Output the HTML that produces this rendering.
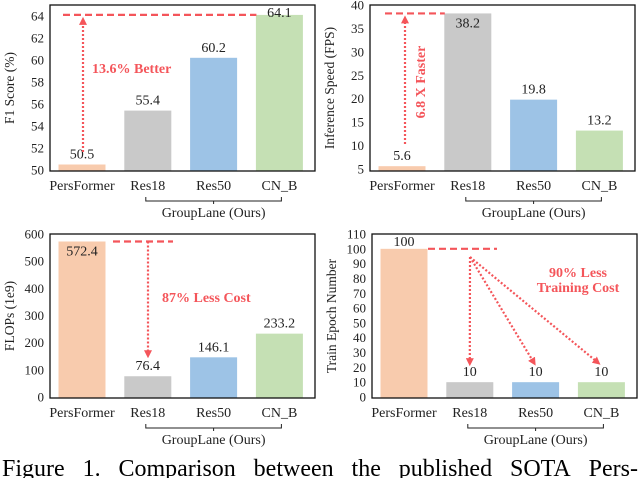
<!DOCTYPE html>
<html><head><meta charset="utf-8">
<style>
html,body{margin:0;padding:0;background:#fff;width:640px;height:478px;overflow:hidden;position:relative;}
svg{position:absolute;left:0;top:0;}
svg text{font-family:"Liberation Serif",serif !important;}
#cap{position:absolute;left:2px;top:455px;width:636px;font:24px "Liberation Serif",serif;line-height:28px;white-space:nowrap;display:flex;justify-content:space-between;}
</style></head>
<body>
<svg id="chart" width="640" height="478" font-family="Liberation Serif, serif">
<defs>
<marker id="ah" markerWidth="8" markerHeight="8" refX="4" refY="4" orient="auto" markerUnits="userSpaceOnUse">
<path d="M0,0 L8,4 L0,8 z" fill="#f4555a"/></marker>
</defs>
</svg>
<div id="cap"><span>Figure</span><span>1.</span><span>Comparison</span><span>between</span><span>the</span><span>published</span><span>SOTA</span><span>Pers-</span></div>
<script>
const categories = ["PersFormer","Res18","Res50","CN_B"];
const f1Values = [50.5,55.4,60.2,64.1];
const f1Labels = ["50.5","55.4","60.2","64.1"];
const f1Ticks = [50,52,54,56,58,60,62,64];
const fpsValues = [5.6,38.2,19.8,13.2];
const fpsLabels = ["5.6","38.2","19.8","13.2"];
const fpsTicks = [5,10,15,20,25,30,35,40];
const flopsValues = [572.4,76.4,146.1,233.2];
const flopsLabels = ["572.4","76.4","146.1","233.2"];
const flopsTicks = [0,100,200,300,400,500,600];
const epochValues = [100,10,10,10];
const epochLabels = ["100","10","10","10"];
const epochTicks = [0,10,20,30,40,50,60,70,80,90,100,110];

const colors = ["#f8cbad","#c9c9c9","#9dc3e6","#c5e0b4"];
const RED = "#f4555a";
const FONT = "Liberation Serif, serif";
const svg = document.getElementById('chart');
const NS = "http://www.w3.org/2000/svg";
function mk(tag, attrs, parent){const e=document.createElementNS(NS,tag);for(const k in attrs)e.setAttribute(k,attrs[k]);if(tag==='text')e.setAttribute('font-family',FONT);(parent||svg).appendChild(e);return e;}

function panel(cfg){
  const g = mk('g',{});
  
  
  const y = v => cfg.y0 - (v - cfg.dmin) / (cfg.dmax - cfg.dmin) * (cfg.y0 - cfg.y1);
  const xc = i => cfg.x0 + 32 + i * 65.8;
  cfg.values.forEach((v,i)=>{
    const r = mk('rect',{x:xc(i)-23.5,y:y(v),width:47,height:Math.max(0,cfg.boxB - y(v)),fill:colors[i]},g);
    
    
    const inside = cfg.inside && cfg.inside[i];
    const ty = inside ? y(v)+14 : Math.max(cfg.boxT+12, y(v)-6);
    const t = mk('text',{x:xc(i),y:ty,'font-size':14,'text-anchor':'middle',fill:'#222'},g);
    t.textContent = cfg.labels[i];
    
    
    const c = mk('text',{x:xc(i),y:cfg.boxB+19,'font-size':14,'text-anchor':'middle',fill:'#222'},g);
    c.textContent = categories[i];
    
    
  });
  cfg.ticks.forEach(tv=>{
    const t = mk('text',{x:cfg.x0-6,y:y(tv)+4.5,'font-size':13,'text-anchor':'end',fill:'#222'},g);
    t.textContent = tv;
    
    
  });
  const b = mk('rect',{x:cfg.x0,y:cfg.boxT,width:265,height:cfg.boxB-cfg.boxT,fill:'none',stroke:'#111','stroke-width':1.3},g);
  
  
  const yt = mk('text',{x:0,y:0,'font-size':13.5,'text-anchor':'middle',fill:'#222',transform:`translate(${cfg.x0-36},${(cfg.boxT+cfg.boxB)/2}) rotate(-90)`},g);
  yt.textContent = cfg.ytitle;
  
  
  const by = cfg.boxB + 26;
  const br = mk('path',{d:`M${xc(1)-2},${by} v4 H${xc(3)+2} v-4 M${(xc(1)+xc(3))/2},${by+4} v3`,fill:'none',stroke:'#222','stroke-width':1},g);
  
  
  const gl = mk('text',{x:(xc(1)+xc(3))/2,y:by+20,'font-size':14,'text-anchor':'middle',fill:'#222'},g);
  gl.textContent = "GroupLane (Ours)";
  
  
  return {g,y,xc};
}

function dashed(g,x1,y1,x2,y2){const l=mk('line',{x1,y1,x2,y2,stroke:RED,'stroke-width':2.2,'stroke-dasharray':'7,4'},g);}
function arrow(g,x1,y1,x2,y2){const l=mk('line',{x1,y1,x2,y2,stroke:RED,'stroke-width':2.2,'stroke-dasharray':'2,2','marker-end':'url(#ah)'},g);}
function note(g,txt,x,y,rot){const t=mk('text',{x,y,'font-size':14,'font-weight':'bold',fill:RED,'text-anchor':rot?'middle':'start'},g);if(rot)t.setAttribute('transform',`rotate(-90 ${x} ${y})`);t.textContent=txt;return t;}

let p = panel({name:'f1-score-chart',x0:50,boxT:5,boxB:171,y0:170,y1:5,dmin:50,dmax:65,values:f1Values,labels:f1Labels,ticks:f1Ticks,ytitle:'F1 Score (%)'});
dashed(p.g,p.xc(0)-19,p.y(f1Values[3]),p.xc(3)-23,p.y(f1Values[3]));
arrow(p.g,83,152,83,p.y(f1Values[3])+6);
note(p.g,"13.6% Better",92,73);

p = panel({name:'inference-speed-chart',x0:370,boxT:5,boxB:171,y0:169,y1:5,dmin:5,dmax:40,values:fpsValues,labels:fpsLabels,ticks:fpsTicks,ytitle:'Inference Speed (FPS)',inside:[false,true,false,false]});
dashed(p.g,385,p.y(fpsValues[1]),p.xc(1)-23,p.y(fpsValues[1]));
arrow(p.g,405,144,405,p.y(fpsValues[1])+6);
note(p.g,"6.8 X Faster",425,82,true);

p = panel({name:'flops-chart',x0:50,boxT:234,boxB:398,y0:397,y1:234,dmin:0,dmax:600,values:flopsValues,labels:flopsLabels,ticks:flopsTicks,ytitle:'FLOPs (1e9)',inside:[true,false,false,false]});
dashed(p.g,113,p.y(flopsValues[0]),173,p.y(flopsValues[0]));
arrow(p.g,148,p.y(flopsValues[0]),148,p.y(flopsValues[1])-22);
note(p.g,"87% Less Cost",162,302);

p = panel({name:'train-epoch-chart',x0:372,boxT:234,boxB:398,y0:397,y1:234,dmin:0,dmax:110,values:epochValues,labels:epochLabels,ticks:epochTicks,ytitle:'Train Epoch Number'});
dashed(p.g,428,p.y(epochValues[0]),497,p.y(epochValues[0]));
[1,2,3].forEach(i=>arrow(p.g,470,257,p.xc(i)-2*(i-1),p.y(epochValues[i])-20));
let t1=note(p.g,"90% Less",578,277);t1.setAttribute('text-anchor','middle');
let t2=note(p.g,"Training Cost",578,292);t2.setAttribute('text-anchor','middle');
</script>
</body></html>
